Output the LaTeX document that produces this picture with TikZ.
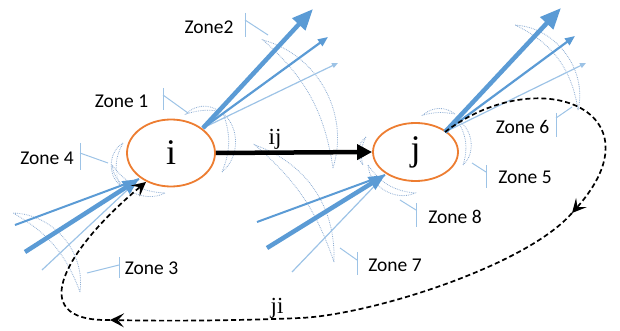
\documentclass[tikz,border=0pt]{standalone}
\usepackage{fontspec}
\newfontfamily\zonefont{Carlito}
\newfontfamily\statefont{Liberation Serif}
\usetikzlibrary{arrows.meta,shapes.geometric,calc}
\definecolor{blueA}{HTML}{5B9BD5}
\definecolor{blueL}{HTML}{9DC3E6}
\definecolor{moonc}{HTML}{8EAED4}
\definecolor{orangeE}{HTML}{ED7D31}
\begin{document}
\begin{tikzpicture}[x=1pt,y=1pt,
  zone/.style={font=\zonefont\fontsize{19.5}{22}\selectfont, inner sep=0pt, text=black},
  tickline/.style={draw=blueL, line width=1pt},
  moon/.style={draw=moonc, densely dotted, line width=0.8pt, fill=white, fill opacity=0.6},
  state/.style={ellipse, draw=orangeE, line width=1.8pt, fill=white, inner sep=0pt, font=\statefont\fontsize{36}{36}\selectfont},
  thickarr/.style={blueA, line width=4.5pt, -{Triangle[length=21pt,width=17pt]}},
  thickin/.style={blueA, line width=4.5pt, -{Triangle[length=16pt,width=14pt]}},
  midarr/.style={blueA, line width=2.2pt, -{Triangle[length=10pt,width=8pt]}},
  midline/.style={blueA, line width=2pt},
  thinarr/.style={blueL, line width=1.2pt, -{Triangle[length=6pt,width=5pt]}},
  thinline/.style={blueL, line width=1.2pt},
  backarr/.style={black, line width=1.7pt, dash pattern=on 5pt off 3pt, -{Stealth[length=14pt,width=14pt,inset=6pt]}},
  backline/.style={black, line width=1.7pt, dash pattern=on 5pt off 3pt},
  edgelab/.style={font=\statefont\fontsize{23}{23}\selectfont, inner sep=0pt}
]
\useasboundingbox (0,0) rectangle (620,-331);

% ---------- crescents (zones) ----------
% large crescents
\path[moon] (333,-168) to[bend right=46] (263,-40) to[bend left=20] (333,-168);   % Zone2
\path[moon] (80,-292) to[bend right=48] (13,-213) to[bend left=20] (80,-292);     % Zone3 (big)
\path[moon] (334,-262) to[bend right=36] (255,-145) to[bend left=15] (334,-262);  % Zone7 (big)
\path[moon] (578,-110) to[bend right=50] (515,-25) to[bend left=28] (578,-110);   % Zone6 (big)
% small crescents around i
\path[moon] (219,-111) to[bend right=40] (186,-114) to[bend left=12] (219,-111);  % Zone1
\path[moon] (222,-172) to[bend right=49] (223,-113) to[bend left=21] (222,-172);
\path[moon] (123,-143) to[bend right=56] (120,-185) to[bend left=25] (123,-143);  % Zone4
\path[moon] (112,-165) to[bend right=56] (165,-193) to[bend left=25] (112,-165);
% small crescents around j
\path[moon] (455,-114) to[bend right=40] (423,-115) to[bend left=12] (455,-114);
\path[moon] (463,-165) to[bend right=56] (457,-120) to[bend left=25] (463,-165);  % Zone5
\path[moon] (366,-137) to[bend right=48] (363,-165) to[bend left=22] (366,-137);
\path[moon] (368,-165) to[bend right=56] (415,-193) to[bend left=25] (368,-165);  % Zone8

% ---------- states ----------
\node[state, minimum width=88pt, minimum height=67pt] (i) at (171,-153) {i};
\node[state, minimum width=85pt, minimum height=58pt] (j) at (415.5,-152) {j};

\draw[black, line width=4.5pt, -{Triangle[length=15pt,width=15pt]}] (i.east) -- (j.west);
\node[edgelab] (lij) at (275,-139) {ij};

% ---------- arrow bundles ----------
\coordinate (Oi) at (203,-128);
\coordinate (Oj) at (445,-132);
\coordinate (Ti) at (139,-179);
\coordinate (Tj) at (385,-175);
\coordinate (hi1) at (313,-9);  \coordinate (hi2) at (328,-37);  \coordinate (hi3) at (338,-63);
\coordinate (hj1) at (561,-8);  \coordinate (hj2) at (575,-36);  \coordinate (hj3) at (586,-63);
\coordinate (ti1) at (25,-252); \coordinate (ti2) at (15,-225);  \coordinate (ti3) at (42,-270);
\coordinate (tj1) at (267,-248);\coordinate (tj2) at (257,-222); \coordinate (tj3) at (292,-272);

\draw[thinarr] (Oi) -- (hi3);
\draw[midarr] (Oi) -- (hi2);
\draw[thickarr] (Oi) -- (hi1);
\draw[thinarr] (Oj) -- (hj3);
\draw[midarr] (Oj) -- (hj2);
\draw[thickarr] (Oj) -- (hj1);
\draw[thinline] (ti3) -- (Ti);
\draw[midline] (ti2) -- (Ti);
\draw[thickin] (ti1) -- (Ti);
\draw[thinline] (tj3) -- (Tj);
\draw[midline] (tj2) -- (Tj);
\draw[thickin] (tj1) -- (Tj);

% ---------- dashed return connector ji ----------
\coordinate (A1) at (572,-213);
\coordinate (B0) at (300,-318);
\coordinate (A2) at (110,-320);
\coordinate (Ei) at (146,-182);
\draw[backarr] (Oj) .. controls (540,-60) and (662,-112) .. (A1);
\draw[backline] (A1) .. controls (526,-266) and (370,-315) .. (B0);
\draw[backarr] (B0) .. controls (230,-321) and (160,-321) .. (A2);
\draw[backarr] (A2) .. controls (20,-322) and (70,-245) .. (Ei);
\node[edgelab] (lji) at (277,-308) {ji};

% ---------- zone labels with callout ticks ----------
\node[zone] (z2) at (209,-27) {Zone2};
\node[zone] (z1) at (121.5,-101) {Zone 1};
\node[zone] (z4) at (47,-158) {Zone 4};
\node[zone] (z3) at (151.5,-268) {Zone 3};
\node[zone] (z6) at (522.5,-127) {Zone 6};
\node[zone] (z5) at (525,-177) {Zone 5};
\node[zone] (z8) at (455,-217) {Zone 8};
\node[zone] (z7) at (395,-265) {Zone 7};

\coordinate (k2a) at (245,-13);  \coordinate (k2b) at (245,-37);  \coordinate (k2s) at (245,-20);  \coordinate (k2e) at (268,-35);
\coordinate (k1a) at (163,-88);  \coordinate (k1b) at (163,-110); \coordinate (k1s) at (163,-95);  \coordinate (k1e) at (188,-113);
\coordinate (k4a) at (80,-143);  \coordinate (k4b) at (80,-170);  \coordinate (k4s) at (80,-153);  \coordinate (k4e) at (108,-163);
\coordinate (k3a) at (119,-257); \coordinate (k3b) at (119,-278); \coordinate (k3s) at (119,-265); \coordinate (k3e) at (87,-273);
\coordinate (k6a) at (556,-113); \coordinate (k6b) at (556,-137); \coordinate (k6s) at (556,-118); \coordinate (k6e) at (572,-107);
\coordinate (k5a) at (486,-165); \coordinate (k5b) at (486,-188); \coordinate (k5s) at (486,-172); \coordinate (k5e) at (472,-163);
\coordinate (k8a) at (416,-203); \coordinate (k8b) at (416,-227); \coordinate (k8s) at (416,-210); \coordinate (k8e) at (400,-200);
\coordinate (k7a) at (357,-252); \coordinate (k7b) at (357,-275); \coordinate (k7s) at (357,-260); \coordinate (k7e) at (340,-248);
\foreach \k in {2,1,4,3,6,5,8,7}{
  \draw[tickline] (k\k a) -- (k\k b);
  \draw[tickline] (k\k s) -- (k\k e);
}
\end{tikzpicture}
\end{document}
